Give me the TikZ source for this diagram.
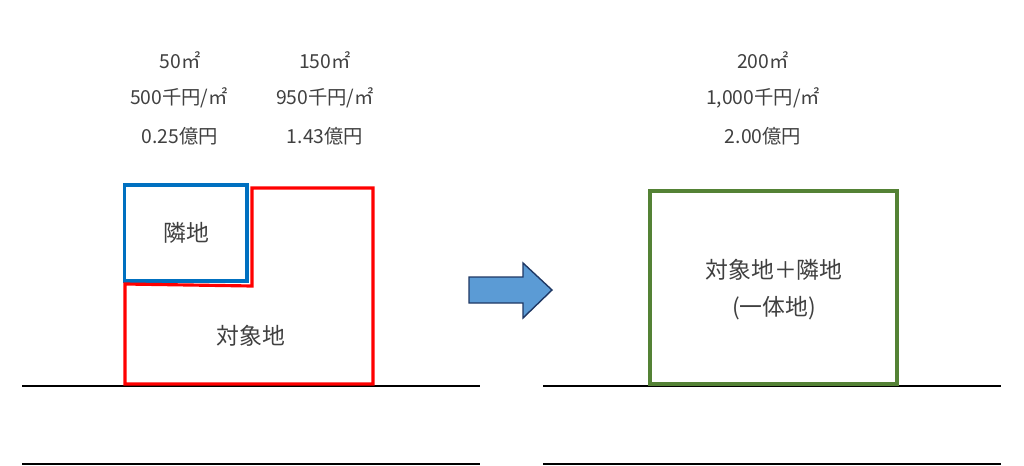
\documentclass[tikz,border=0pt]{standalone}
\usepackage{fontspec}
\setmainfont{Noto Sans CJK JP}
\definecolor{lotblue}{RGB}{0,112,192}
\definecolor{lotred}{RGB}{255,0,0}
\definecolor{lotgreen}{RGB}{84,130,53}
\definecolor{arrowfill}{RGB}{91,155,213}
\definecolor{arrowline}{RGB}{31,56,100}
\definecolor{txt}{RGB}{64,64,64}
\tikzset{
  lot/.style={line width=1.8pt},
  road/.style={line width=0.85pt,black},
  info/.style={text=txt,font=\fontsize{11}{13}\selectfont,inner sep=0pt},
  lotname/.style={text=txt,font=\fontsize{13}{15}\selectfont,inner sep=0pt}
}
\begin{document}
\begin{tikzpicture}[x=0.02cm,y=-0.02cm]
\useasboundingbox (0,0) rectangle (1024,466);
% roads
\draw[road] (22,386) -- (480,386);
\draw[road] (22,464) -- (480,464);
\draw[road] (543,386) -- (1001,386);
\draw[road] (543,464) -- (1001,464);
% lots before
\draw[lot,lotblue] (124.5,185) rectangle (247,281);
\draw[lot,lotred] (125,284) -- (125,384) -- (373,384) -- (373,188) -- (252,188) -- (252,286) -- cycle;
\node[lotname] (neighbor) at (186,233) {隣地};
\node[lotname] (subject) at (251,336) {対象地};
% figures
\node[info] (areaA) at (180,60) {50㎡};
\node[info] (priceA) at (179,98) {500千円/㎡};
\node[info] (valueA) at (180,136) {0.25億円};
\node[info] (areaB) at (325,60) {150㎡};
\node[info] (priceB) at (325,98) {950千円/㎡};
\node[info] (valueB) at (325,136) {1.43億円};
% arrow
\draw[fill=arrowfill,draw=arrowline,line width=0.8pt] (469,277) -- (523,277) -- (523,263) -- (552,290) -- (523,318) -- (523,303) -- (469,303) -- cycle;
% lot after
\draw[lot,lotgreen] (650,191) rectangle (897,384);
\node[lotname] (merged) at (774,270) {対象地＋隣地};
\node[lotname] (mergednote) at (774,308) {(一体地)};
\node[info] (areaC) at (763,60) {200㎡};
\node[info] (priceC) at (763,98) {1,000千円/㎡};
\node[info] (valueC) at (763,136) {2.00億円};
\end{tikzpicture}
\end{document}
